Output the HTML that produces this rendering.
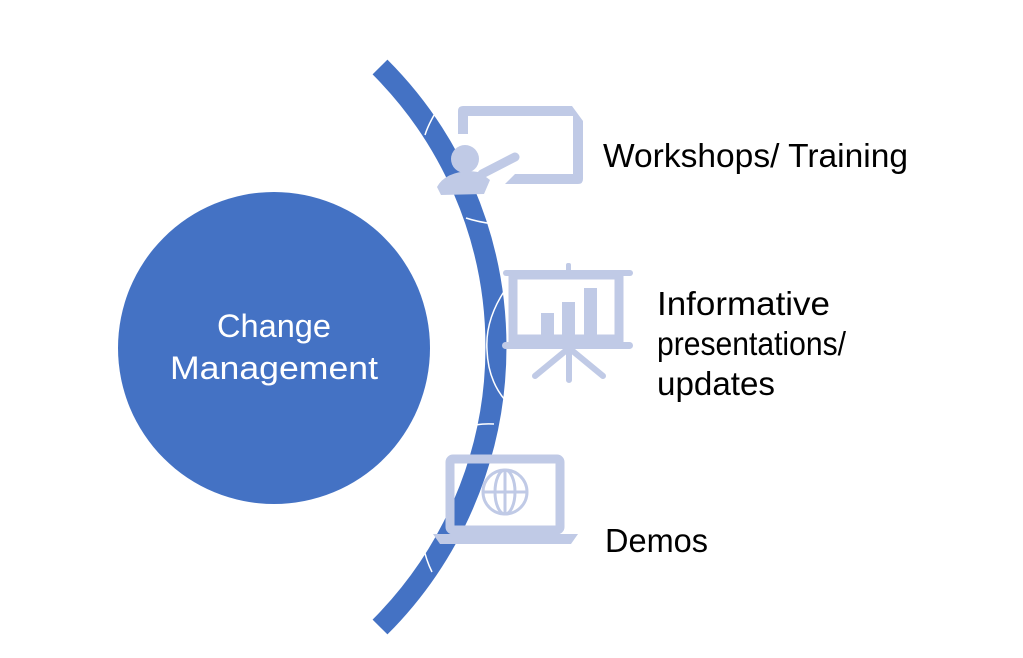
<!DOCTYPE html>
<html><head><meta charset="utf-8"><style>html,body{margin:0;padding:0;background:#fff;}svg{display:block}</style></head>
<body>
<svg width="1023" height="658" viewBox="0 0 1023 658" xmlns="http://www.w3.org/2000/svg">
<rect width="1023" height="658" fill="#fff"/>
<circle cx="274" cy="348" r="156" fill="#4472c4"/>
<g font-family="Liberation Sans, sans-serif" font-size="32" fill="#fff" text-anchor="middle">
<text x="274" y="337" textLength="114" lengthAdjust="spacingAndGlyphs">Change</text>
<text x="274" y="379" textLength="208" lengthAdjust="spacingAndGlyphs">Management</text>
</g>
<path d="M380 67 A396 396 0 0 1 380 627" fill="none" stroke="#4472c4" stroke-width="21"/>
<g fill="none" stroke="#fff" stroke-width="1.5">
<path d="M437 110 Q428 125 425 135"/>
<path d="M466 218 Q478 222 494 224"/>
<path d="M505 290 Q485 320 487 350 Q488 380 505 400"/>
<path d="M463 428 Q478 423 494 424"/>
<path d="M423 545 Q426 560 432 572"/>
</g>
<g fill="#c0cae6" stroke="#c0cae6">
<path d="M458 134 V111 Q458 106 463 106 H572 L583 121 V179 Q583 184 578 184 H505 L515 174 H573 V116 H468 V134 Z" stroke="none"/>
<circle cx="465" cy="159" r="14" stroke="none"/>
<path d="M482 174 L515 157" stroke-width="9" stroke-linecap="round" fill="none"/>
<path d="M437 187 Q445 172 470 171 L486 173 L486 177 L490 180 L484 194 L441 195 Z" stroke="none"/>
<rect x="503" y="270" width="130" height="6" rx="3" stroke="none"/>
<rect x="566" y="263" width="5" height="10" rx="2" stroke="none"/>
<rect x="513" y="275" width="106" height="64" fill="none" stroke-width="9"/>
<rect x="541" y="313" width="13" height="24" stroke="none"/>
<rect x="562" y="302" width="13" height="35" stroke="none"/>
<rect x="584" y="288" width="13" height="49" stroke="none"/>
<rect x="502" y="342" width="131" height="7" rx="3.5" stroke="none"/>
<path d="M569 348 V380 M569 348 L535 376 M569 348 L603 376" stroke-width="6" stroke-linecap="round" fill="none"/>
<rect x="450" y="459" width="110" height="71" rx="3" fill="none" stroke-width="9"/>
<path d="M433 534 H578 L571 544 H440 Z" stroke="none"/>
<g fill="none" stroke-width="3">
<circle cx="505" cy="492" r="22"/>
<ellipse cx="505" cy="492" rx="10" ry="22"/>
<path d="M483 492 H527 M505 470 V514"/>
</g>
</g>
<g font-family="Liberation Sans, sans-serif" font-size="33" fill="#000">
<text x="603" y="167" textLength="305" lengthAdjust="spacingAndGlyphs">Workshops/ Training</text>
<text x="657" y="315" textLength="173" lengthAdjust="spacingAndGlyphs">Informative</text>
<text x="657" y="355" textLength="189" lengthAdjust="spacingAndGlyphs">presentations/</text>
<text x="657" y="395" textLength="118" lengthAdjust="spacingAndGlyphs">updates</text>
<text x="605" y="552" textLength="103" lengthAdjust="spacingAndGlyphs">Demos</text>
</g>
</svg>
</body></html>
